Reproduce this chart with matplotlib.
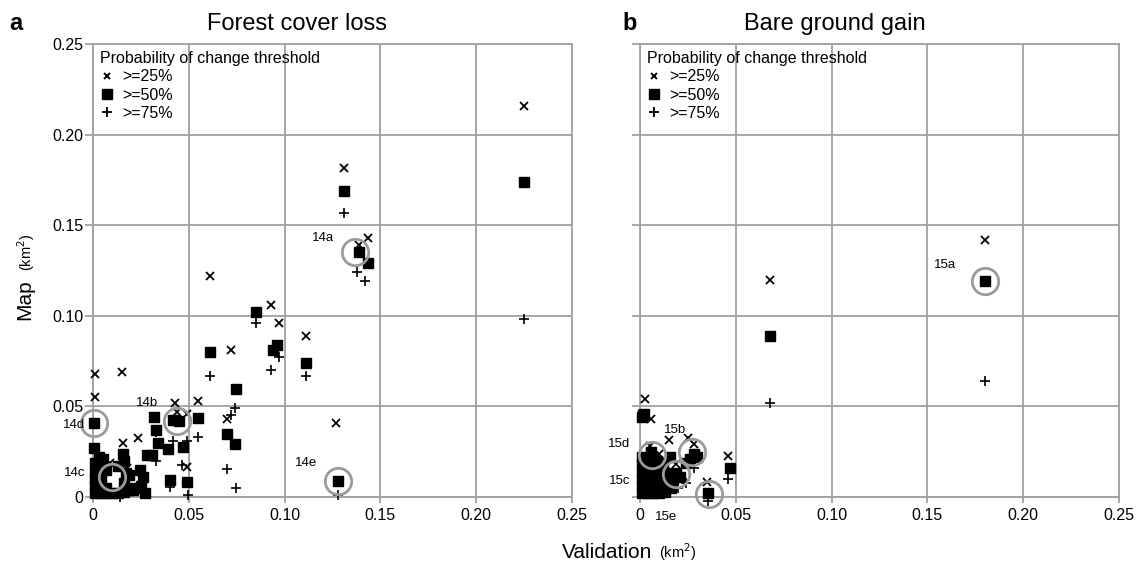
import matplotlib
matplotlib.use("Agg")
import matplotlib.pyplot as plt
from matplotlib.lines import Line2D

plt.rcParams['font.family'] = ['Liberation Sans', 'DejaVu Sans']

# ---------------- data: panel a (Forest cover loss) ----------------
a_x25 = [0.225, 0.131, 0.1435, 0.139, 0.061, 0.093, 0.097, 0.111, 0.072, 0.127,
         0.001, 0.001, 0.015, 0.043, 0.055, 0.044, 0.049, 0.070, 0.0235, 0.0157,
         0.009, 0.049, 0.018]
a_y25 = [0.216, 0.1816, 0.143, 0.139, 0.122, 0.106, 0.096, 0.089, 0.081, 0.041,
         0.068, 0.055, 0.069, 0.052, 0.053, 0.047, 0.046, 0.043, 0.0326, 0.030,
         0.019, 0.0166, 0.016]

a_x50 = [0.225, 0.131, 0.139, 0.1435, 0.085, 0.061, 0.094, 0.096, 0.111, 0.0746,
         0.070, 0.074, 0.128, 0.0005, 0.0005, 0.032, 0.042, 0.045, 0.055, 0.033,
         0.034, 0.028, 0.031, 0.039, 0.047, 0.0157, 0.016, 0.0245, 0.026, 0.021,
         0.040, 0.049,
         0.001, 0.001, 0.001, 0.001, 0.001, 0.004, 0.004, 0.004, 0.004, 0.004,
         0.007, 0.007, 0.007, 0.010, 0.013, 0.013, 0.016, 0.016, 0.019, 0.019,
         0.022, 0.025, 0.005, 0.003, 0.017, 0.027]
a_y50 = [0.174, 0.169, 0.135, 0.129, 0.102, 0.080, 0.081, 0.084, 0.074, 0.0596,
         0.035, 0.029, 0.009, 0.041, 0.027, 0.044, 0.0425, 0.042, 0.0436, 0.037,
         0.030, 0.023, 0.023, 0.0265, 0.0276, 0.024, 0.020, 0.015, 0.011, 0.004,
         0.0094, 0.0083,
         0.002, 0.006, 0.010, 0.014, 0.019, 0.002, 0.006, 0.010, 0.014, 0.018,
         0.002, 0.005, 0.015, 0.002, 0.002, 0.017, 0.003, 0.008, 0.004, 0.012,
         0.005, 0.006, 0.021, 0.022, 0.013, 0.002]

a_x75 = [0.225, 0.131, 0.138, 0.142, 0.085, 0.097, 0.093, 0.111, 0.061, 0.074,
         0.070, 0.0746, 0.128, 0.042, 0.049, 0.055, 0.033, 0.033, 0.0465, 0.040,
         0.0496, 0.0256, 0.014, 0.072]
a_y75 = [0.098, 0.157, 0.124, 0.119, 0.096, 0.077, 0.070, 0.067, 0.067, 0.049,
         0.0155, 0.005, 0.001, 0.031, 0.031, 0.033, 0.036, 0.020, 0.0177, 0.0055,
         0.001, 0.003, 0.000, 0.045]

a_circle_x = [0.137, 0.044, 0.0099, 0.0005, 0.128]
a_circle_y = [0.135, 0.042, 0.011, 0.041, 0.009]
a_labels = ['14a', '14b', '14c', '14d', '14e']
a_label_x = [0.126, 0.034, -0.004, -0.004, 0.117]
a_label_y = [0.143, 0.052, 0.013, 0.040, 0.019]

# ---------------- data: panel b (Bare ground gain) ----------------
b_x25 = [0.180, 0.068, 0.0026, 0.001, 0.006, 0.015, 0.025, 0.046, 0.035, 0.019,
         0.005, 0.028, 0.010]
b_y25 = [0.142, 0.120, 0.054, 0.046, 0.043, 0.0315, 0.0325, 0.0226, 0.0083, 0.018,
         0.028, 0.029, 0.024]

b_x50 = [0.180, 0.068, 0.001, 0.002, 0.047, 0.0354, 0.028, 0.026, 0.030, 0.024,
         0.019, 0.017, 0.021, 0.0156,
         0.001, 0.001, 0.001, 0.001, 0.001, 0.001, 0.004, 0.004, 0.004, 0.004,
         0.004, 0.007, 0.007, 0.007, 0.007, 0.007, 0.010, 0.010, 0.010, 0.010,
         0.013, 0.013, 0.013, 0.006, 0.009, 0.016, 0.012]
b_y50 = [0.119, 0.089, 0.044, 0.046, 0.016, 0.002, 0.024, 0.021, 0.022, 0.019,
         0.013, 0.010, 0.011, 0.022,
         0.002, 0.006, 0.010, 0.014, 0.018, 0.022, 0.002, 0.006, 0.010, 0.014,
         0.019, 0.002, 0.006, 0.010, 0.015, 0.022, 0.002, 0.006, 0.011, 0.017,
         0.003, 0.008, 0.013, 0.025, 0.020, 0.005, 0.019]

b_x75 = [0.180, 0.068, 0.046, 0.0354, 0.024, 0.028, 0.020, 0.009]
b_y75 = [0.064, 0.052, 0.010, -0.002, 0.008, 0.016, 0.005, 0.012]

b_circle_x = [0.180, 0.027, 0.019, 0.0063, 0.036]
b_circle_y = [0.119, 0.0248, 0.0127, 0.023, 0.0017]
b_labels = ['15a', '15b', '15c', '15d', '15e']
b_label_x = [0.165, 0.024, -0.005, -0.005, 0.0135]
b_label_y = [0.128, 0.037, 0.009, 0.029, -0.011]

ticks = [0, 0.05, 0.10, 0.15, 0.20, 0.25]
tick_labels = ['0', '0.05', '0.10', '0.15', '0.20', '0.25']
legend_title = 'Probability of change threshold'
legend_labels = ['>=25%', '>=50%', '>=75%']

GRID = '#a0a0a0'
CIRC = '#9a9a9a'

fig = plt.figure(figsize=(11.48, 5.68), dpi=100)
W, H = 1148, 568
ax_a = fig.add_axes([93 / W, 1 - 497 / H, 479 / W, 453 / H])
ax_b = fig.add_axes([640 / W, 1 - 497 / H, 479 / W, 453 / H])


def draw(ax, x25, y25, x50, y50, x75, y75, cx, cy, labs, lx, ly, show_y):
    ax.set_xlim(0, 0.25)
    ax.set_ylim(0, 0.25)
    ax.set_xticks(ticks)
    ax.set_yticks(ticks)
    ax.set_xticklabels(tick_labels)
    ax.set_yticklabels(tick_labels if show_y else [])
    ax.grid(True, color=GRID, linewidth=1.3)
    ax.set_axisbelow(True)
    for s in ax.spines.values():
        s.set_color(GRID)
        s.set_linewidth(1.3)
    ax.tick_params(axis='both', colors=GRID, labelcolor='black', labelsize=11.5,
                   width=1.3)
    ax.tick_params(axis='y', length=6, pad=1)
    ax.tick_params(axis='x', length=4, pad=4)
    ax.plot(x50, y50, linestyle='none', marker='s', ms=7, color='black',
            clip_on=False, zorder=3)
    ax.plot(x25, y25, linestyle='none', marker='x', ms=5.5, mew=1.3, color='black',
            clip_on=False, zorder=4)
    ax.plot(x75, y75, linestyle='none', marker='+', ms=7, mew=1.2, color='black',
            clip_on=False, zorder=4)
    ax.plot(cx, cy, linestyle='none', marker='o', ms=19, mfc='none', mec=CIRC,
            mew=2, clip_on=False, zorder=5)
    for t, x, y in zip(labs, lx, ly):
        ax.text(x, y, t, fontsize=9.5, ha='right', va='center', clip_on=False,
                zorder=6)
    handles = [
        Line2D([], [], linestyle='none', marker='x', ms=5, mew=1.4, color='black'),
        Line2D([], [], linestyle='none', marker='s', ms=7, color='black'),
        Line2D([], [], linestyle='none', marker='+', ms=7, mew=1.3, color='black'),
    ]
    leg = ax.legend(handles, legend_labels, title=legend_title, loc='upper left',
                    bbox_to_anchor=(0.0, 1.0), frameon=False, fontsize=11.5,
                    title_fontsize=11.5, alignment='left', borderaxespad=0.15,
                    borderpad=0.3, handlelength=0.9, handletextpad=0.5,
                    labelspacing=0.2)
    leg.set_zorder(7)


draw(ax_a, a_x25, a_y25, a_x50, a_y50, a_x75, a_y75,
     a_circle_x, a_circle_y, a_labels, a_label_x, a_label_y, True)
draw(ax_b, b_x25, b_y25, b_x50, b_y50, b_x75, b_y75,
     b_circle_x, b_circle_y, b_labels, b_label_x, b_label_y, False)
# 15e label sits below the axis, centred under its circle
for t in ax_b.texts:
    if t.get_text() == '15e':
        t.set_ha('center')

fig.text(9 / W, 1 - 30 / H, 'a', fontsize=17, fontweight='bold', ha='left',
         va='baseline')
fig.text(622 / W, 1 - 30 / H, 'b', fontsize=17, fontweight='bold', ha='left',
         va='baseline')
fig.text(297 / W, 1 - 30 / H, 'Forest cover loss', fontsize=17, ha='center',
         va='baseline')
fig.text(835 / W, 1 - 30 / H, 'Bare ground gain', fontsize=17, ha='center',
         va='baseline')

fig.text(652 / W, 1 - 558 / H, 'Validation', fontsize=15, ha='right',
         va='baseline')
fig.text(659 / W, 1 - 558 / H, '(km$^2$)', fontsize=10.5, ha='left',
         va='baseline')
fig.text(25 / W, 1 - 300 / H, 'Map', fontsize=15, rotation=90, ha='center',
         va='center')
fig.text(26 / W, 1 - 252 / H, '(km$^2$)', fontsize=10.5, rotation=90,
         ha='center', va='center')

fig.savefig('out.png', dpi=100)
